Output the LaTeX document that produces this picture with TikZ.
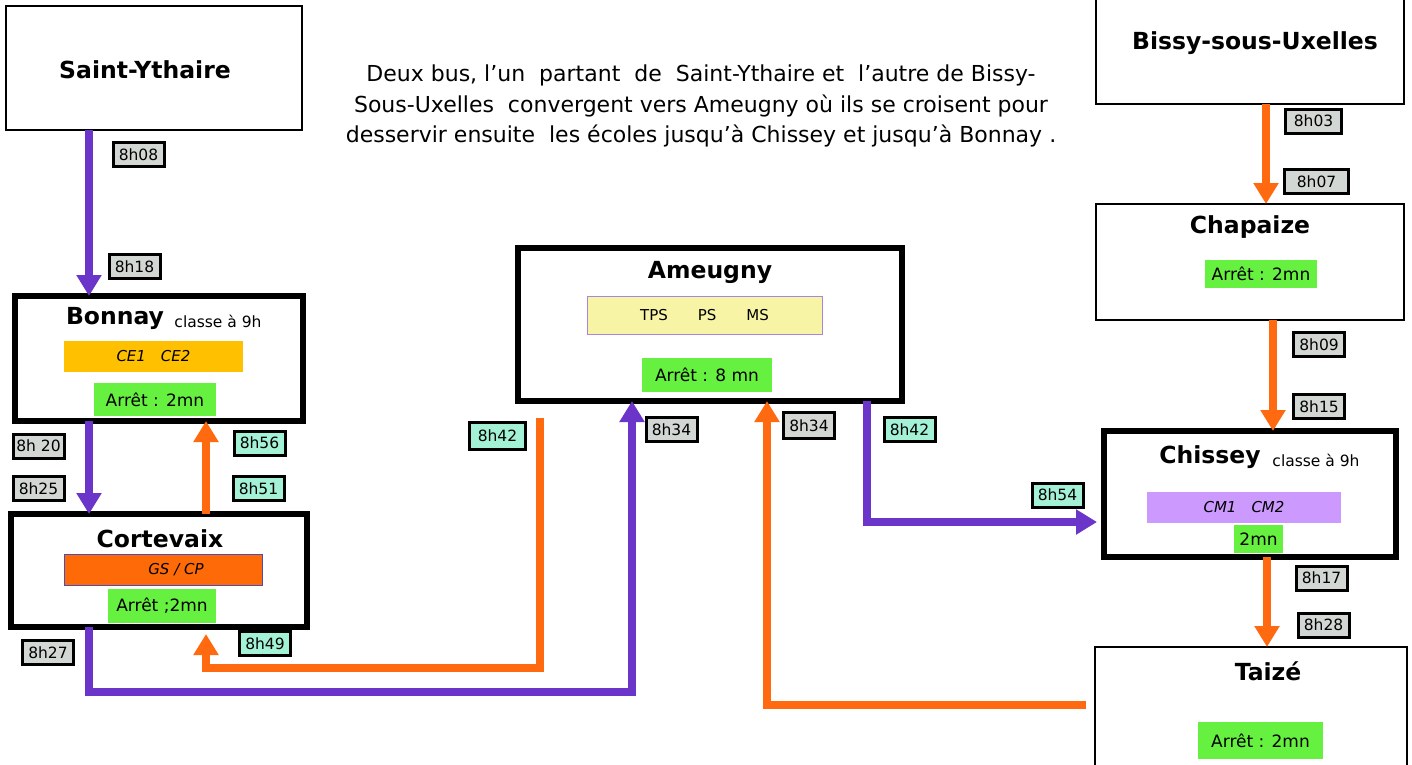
\documentclass[tikz,border=0pt]{standalone}
\usepackage{fontspec}
\setmainfont{DejaVu Sans}
\usetikzlibrary{arrows.meta}
\definecolor{pur}{HTML}{6A35C8}
\definecolor{org}{HTML}{FF6A10}
\definecolor{lgrey}{HTML}{D3D7D3}
\definecolor{lteal}{HTML}{A4F2D6}
\definecolor{lgreen}{HTML}{66F040}
\definecolor{lyel}{HTML}{FFC000}
\definecolor{pyel}{HTML}{F8F4A6}
\definecolor{lorg}{HTML}{FF6A08}
\definecolor{lil}{HTML}{CC99FF}
\begin{document}
\begin{tikzpicture}[x=1pt,y=-1pt,
  town/.style={draw=black, line width=2.5pt, fill=white, inner sep=0pt, outer sep=0pt},
  townthick/.style={town, line width=6pt},
  ttl/.style={font=\fontsize{23.5}{26}\selectfont\bfseries, inner sep=0pt},
  cls/.style={font=\fontsize{15.5}{17}\selectfont, inner sep=0pt},
  lbl/.style={draw=black, line width=3pt, inner sep=0pt, minimum width=51pt, minimum height=24pt, font=\fontsize{15.5}{17}\selectfont},
  greylbl/.style={lbl, fill=lgrey},
  teallbl/.style={lbl, fill=lteal},
  band/.style={inner sep=0pt, font=\fontsize{15}{17}\selectfont},
  stop/.style={band, fill=lgreen, font=\fontsize{17}{19}\selectfont},
  parrow/.style={draw=pur, line width=8pt, -{Triangle[width=24pt,length=21pt]}},
  oarrow/.style={draw=org, line width=8pt, -{Triangle[width=24pt,length=21pt]}}
]
\useasboundingbox (0,0) rectangle (1412,764);
\fill[white] (0,0) rectangle (1412,764);

% towns
\node[town, minimum width=296pt, minimum height=124pt] (sy) at (154,68) {};
\node[ttl] (syt) at (145,70) {Saint-Ythaire};

\node[town, minimum width=308pt, minimum height=124pt] (bs) at (1250,42) {};
\node[ttl] (bst) at (1255,43) {Bissy-sous-Uxelles};

\node[townthick, minimum width=288pt, minimum height=125pt] (bo) at (159,358.5) {};
\node[ttl] (bot) at (115,318) {Bonnay};
\node[cls] (boc) at (218,321) {classe à 9h};
\node[band, fill=lyel, minimum width=179pt, minimum height=31pt] (boband) at (153.5,356.5) {\textsl{CE1\quad CE2}};
\node[stop, minimum width=122pt, minimum height=33pt] (bostop) at (155,399.5) {Arrêt : 2mn};

\node[townthick, minimum width=296pt, minimum height=113pt] (co) at (159,570.5) {};
\node[ttl] (cot) at (160,539) {Cortevaix};
\node[band, fill=lorg, draw=blue!40!gray, line width=0.8pt, minimum width=198pt, minimum height=31pt] (coband) at (163,569.5) {\hspace*{26pt}\textsl{GS / CP}};
\node[stop, minimum width=108pt, minimum height=34pt] (costop) at (162,606) {Arrêt ;2mn};

\node[townthick, minimum width=384pt, minimum height=153pt] (am) at (710,324.5) {};
\node[ttl] (amt) at (710,272) {Ameugny};
\node[band, fill=pyel, draw=pur!60, line width=1pt, minimum width=235pt, minimum height=38pt] (amband) at (704.5,315) {TPS\qquad PS\qquad MS};
\node[stop, minimum width=130pt, minimum height=34pt] (amstop) at (707,375) {Arrêt : 8 mn};

\node[town, minimum width=308pt, minimum height=116pt] (ch) at (1250,262) {};
\node[ttl] (cht) at (1250,227) {Chapaize};
\node[stop, minimum width=112pt, minimum height=28pt] (chstop) at (1261,274) {Arrêt : 2mn};

\node[townthick, minimum width=292pt, minimum height=126pt] (ci) at (1250,494) {};
\node[ttl] (cit) at (1210,457) {Chissey};
\node[cls] (cic) at (1316,460) {classe à 9h};
\node[band, fill=lil, minimum width=194pt, minimum height=31pt] (ciband) at (1244,507.5) {\textsl{CM1\quad CM2}};
\node[stop, minimum width=49pt, minimum height=28pt] (cistop) at (1258.5,539) {2mn};

\node[town, minimum width=312pt, minimum height=156pt] (ta) at (1251,725) {};
\node[ttl] (tat) at (1268,671) {Taizé};
\node[stop, minimum width=125pt, minimum height=37pt] (tastop) at (1260.5,740.5) {Arrêt : 2mn};

% text
\node[align=center, font=\fontsize{22}{30.5}\selectfont, inner sep=0pt] (txt) at (701,106)
 {Deux bus, l’un\ \ partant\ \ de\ \ Saint-Ythaire et\ \ l’autre de Bissy-\\
  Sous-Uxelles\ \ convergent vers Ameugny où ils se croisent pour\\
  desservir ensuite\ \ les écoles jusqu’à Chissey et jusqu’à Bonnay .};

% connectors
\draw[parrow] ([xshift=-65pt]sy.south) -- ([xshift=-70pt]bo.north);
\draw[parrow] ([xshift=-70pt]bo.south) -- ([xshift=-70pt]co.north);
\draw[oarrow] ([xshift=47pt]co.north) -- ([xshift=47pt]bo.south);
\coordinate (pc) at (632,692);
\draw[parrow] ([xshift=-70pt]co.south) |- (pc) -- ([xshift=-78pt]am.south);
\coordinate (os) at (540,418);
\coordinate (oc) at (206,668);
\draw[oarrow, shorten >=7pt] (os) |- (oc) -- ([xshift=47pt]co.south);
\draw[oarrow, shorten <=9pt] ([yshift=20pt]ta.west) -| ([xshift=57pt]am.south);
\draw[parrow, shorten >=7pt] ([xshift=157pt]am.south) |- ([yshift=-28pt]ci.west);
\draw[oarrow] ([xshift=16pt]bs.south) -- ([xshift=16pt]ch.north);
\draw[oarrow] ([xshift=23pt]ch.south) -- ([xshift=23pt]ci.north);
\draw[oarrow] ([xshift=17pt]ci.south) -- ([xshift=16pt]ta.north);

% time labels
\node[greylbl] (l1) at (138.5,154.5) {8h08};
\node[greylbl] (l2) at (134.5,266.5) {8h18};
\node[greylbl] (l3) at (38.5,446) {8h 20};
\node[greylbl] (l4) at (38.5,488.5) {8h25};
\node[teallbl] (l5) at (259.5,443) {8h56};
\node[teallbl] (l6) at (258.5,488.5) {8h51};
\node[greylbl] (l7) at (48,652.5) {8h27};
\node[teallbl] (l8) at (265,643.5) {8h49};
\node[teallbl, minimum width=56pt, minimum height=27pt] (l9) at (497.5,436) {8h42};
\node[greylbl] (l10) at (671.5,429.5) {8h34};
\node[greylbl, minimum height=26pt] (l11) at (809,425.5) {8h34};
\node[teallbl] (l12) at (909.5,429.5) {8h42};
\node[teallbl] (l13) at (1057.5,495) {8h54};
\node[greylbl, minimum width=56pt] (l14) at (1313.5,121) {8h03};
\node[greylbl, minimum width=64pt] (l15) at (1316.5,181.5) {8h07};
\node[greylbl] (l16) at (1319,344.5) {8h09};
\node[greylbl] (l17) at (1319,406.5) {8h15};
\node[greylbl] (l18) at (1321.5,578) {8h17};
\node[greylbl] (l19) at (1323.5,625) {8h28};
\end{tikzpicture}
\end{document}
